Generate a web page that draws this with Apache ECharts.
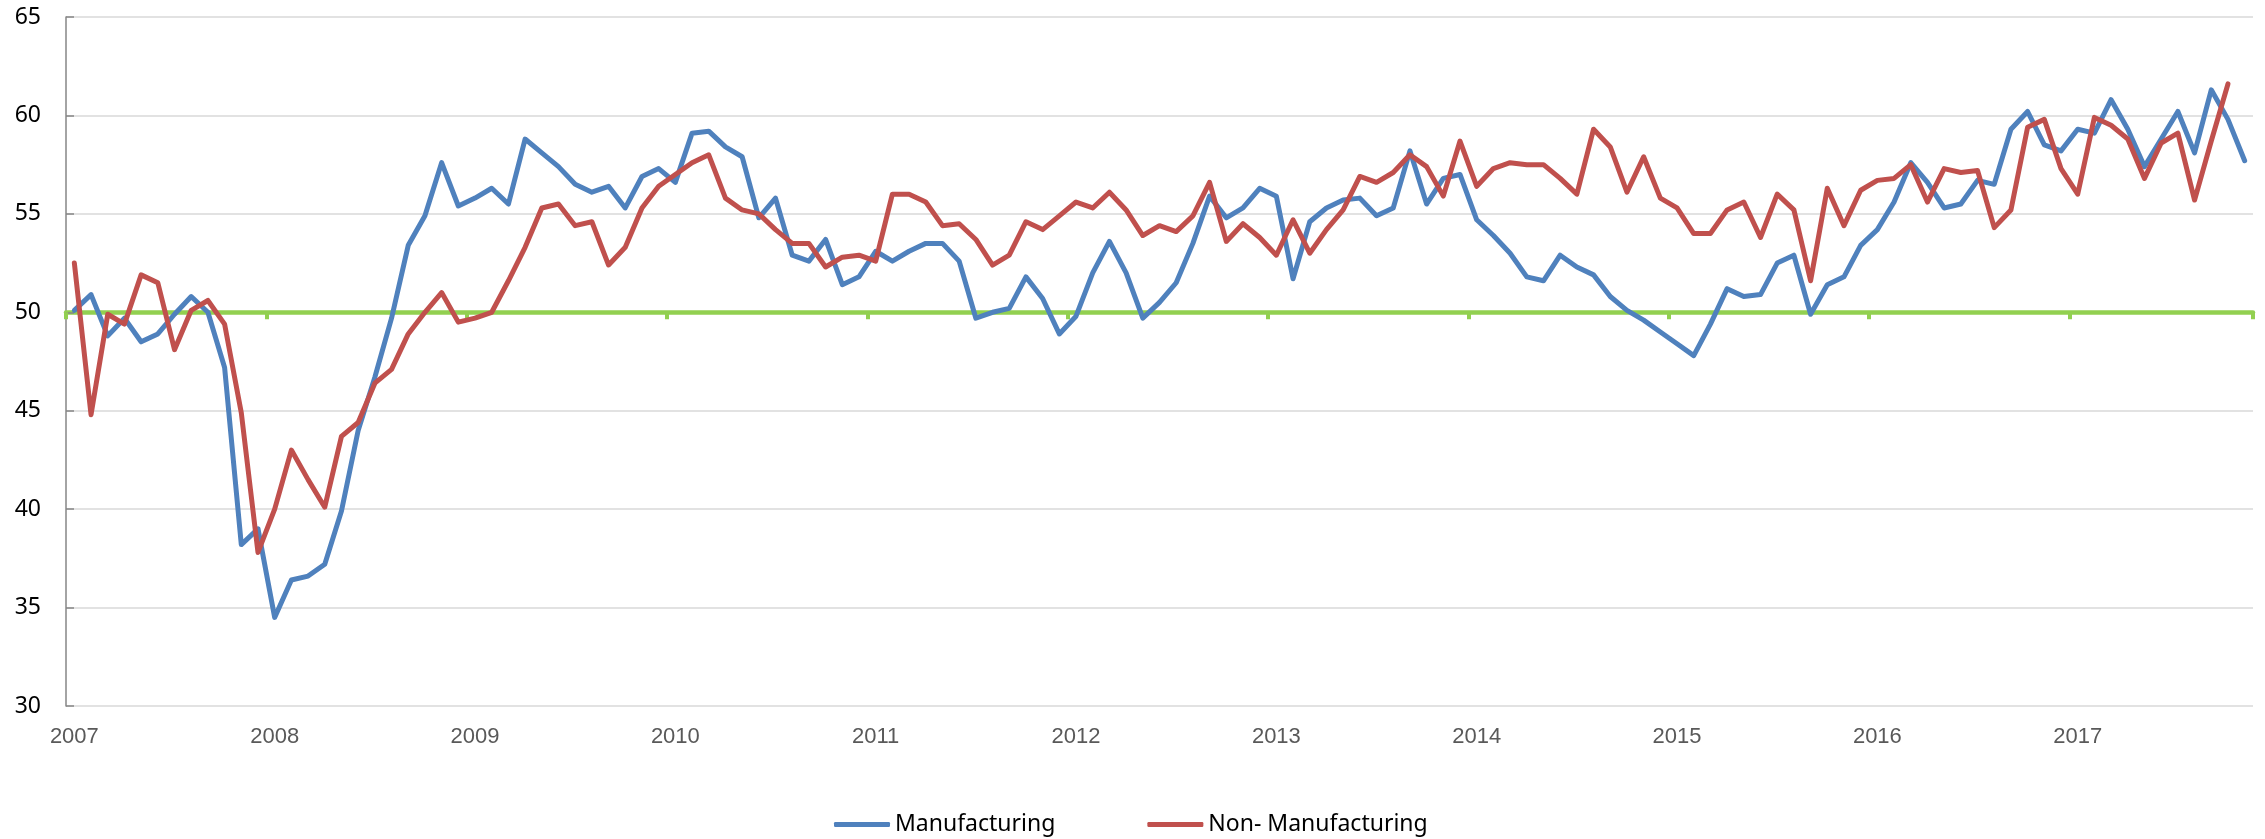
<!DOCTYPE html>
<html>
<head>
<meta charset="utf-8">
<title>Manufacturing vs Non-Manufacturing</title>
<script src="https://cdn.jsdelivr.net/npm/echarts@6/dist/echarts.min.js"></script>
<style>
  html, body { margin: 0; padding: 0; background: #ffffff; }
  #chart { width: 2265px; height: 839px; }
</style>
</head>
<body>
<div id="chart"></div>
<script>
// years shown on the category axis (monthly data, Jan 2007 .. Nov 2017)
const years = ['2007', '2008', '2009', '2010', '2011', '2012', '2013', '2014', '2015', '2016', '2017']
const lastMonth = 11

// Manufacturing
const manufacturing = [
  50.1, 50.9, 48.8, 49.7, 48.5, 48.9, 49.9, 50.8, 50.0, 47.2, 38.2, 39.0,
  34.5, 36.4, 36.6, 37.2, 39.9, 44.0, 46.7, 49.7, 53.4, 54.9, 57.6, 55.4,
  55.8, 56.3, 55.5, 58.8, 58.1, 57.4, 56.5, 56.1, 56.4, 55.3, 56.9, 57.3,
  56.6, 59.1, 59.2, 58.4, 57.9, 54.8, 55.8, 52.9, 52.6, 53.7, 51.4, 51.8,
  53.1, 52.6, 53.1, 53.5, 53.5, 52.6, 49.7, 50.0, 50.2, 51.8, 50.7, 48.9,
  49.8, 52.0, 53.6, 52.0, 49.7, 50.5, 51.5, 53.5, 55.9, 54.8, 55.3, 56.3,
  55.9, 51.7, 54.6, 55.3, 55.7, 55.8, 54.9, 55.3, 58.2, 55.5, 56.8, 57.0,
  54.7, 53.9, 53.0, 51.8, 51.6, 52.9, 52.3, 51.9, 50.8, 50.1, 49.6, 49.0,
  48.4, 47.8, 49.4, 51.2, 50.8, 50.9, 52.5, 52.9, 49.9, 51.4, 51.8, 53.4,
  54.2, 55.6, 57.6, 56.6, 55.3, 55.5, 56.7, 56.5, 59.3, 60.2, 58.5, 58.2,
  59.3, 59.1, 60.8, 59.3, 57.4, 58.8, 60.2, 58.1, 61.3, 59.8, 57.7
]

// Non- Manufacturing (no reading for the last month)
const nonManufacturing = [
  52.5, 44.8, 49.9, 49.4, 51.9, 51.5, 48.1, 50.1, 50.6, 49.4, 44.9, 37.8,
  40.0, 43.0, 41.5, 40.1, 43.7, 44.4, 46.4, 47.1, 48.9, 50.0, 51.0, 49.5,
  49.7, 50.0, 51.6, 53.3, 55.3, 55.5, 54.4, 54.6, 52.4, 53.3, 55.3, 56.4,
  57.0, 57.6, 58.0, 55.8, 55.2, 55.0, 54.2, 53.5, 53.5, 52.3, 52.8, 52.9,
  52.6, 56.0, 56.0, 55.6, 54.4, 54.5, 53.7, 52.4, 52.9, 54.6, 54.2, 54.9,
  55.6, 55.3, 56.1, 55.2, 53.9, 54.4, 54.1, 54.9, 56.6, 53.6, 54.5, 53.8,
  52.9, 54.7, 53.0, 54.2, 55.2, 56.9, 56.6, 57.1, 58.0, 57.4, 55.9, 58.7,
  56.4, 57.3, 57.6, 57.5, 57.5, 56.8, 56.0, 59.3, 58.4, 56.1, 57.9, 55.8,
  55.3, 54.0, 54.0, 55.2, 55.6, 53.8, 56.0, 55.2, 51.6, 56.3, 54.4, 56.2,
  56.7, 56.8, 57.5, 55.6, 57.3, 57.1, 57.2, 54.3, 55.2, 59.4, 59.8, 57.3,
  56.0, 59.9, 59.5, 58.8, 56.8, 58.6, 59.1, 55.7, 58.7, 61.6, null
]

const yTicks = { min: 30, max: 65, step: 5 }
const threshold = 50

// month categories built from the year list
const months = []
years.forEach((y, yi) => {
  const n = yi === years.length - 1 ? lastMonth : 12
  for (let m = 1; m <= n; m++) {
    months.push(y + '-' + (m < 10 ? '0' + m : m))
  }
})

const gridTop = 17
const gridBottom = 133
const plotHeight = 839 - gridTop - gridBottom
// lift the green axis up to the 50 line
const axisLift = -((threshold - yTicks.min) / (yTicks.max - yTicks.min)) * plotHeight

const myChart = echarts.init(document.getElementById('chart'))
myChart.setOption({
  animation: false,
  backgroundColor: '#ffffff',
  grid: {
    left: 66,
    right: 12,
    top: gridTop,
    bottom: gridBottom,
    containLabel: false
  },
  legend: {
    left: 829,
    top: 808,
    icon: 'roundRect',
    itemWidth: 56,
    itemHeight: 5,
    itemGap: 92,
    textStyle: {
      fontFamily: 'Noto Sans',
      fontSize: 23,
      color: '#000000'
    },
    data: ['Manufacturing', 'Non- Manufacturing']
  },
  xAxis: [
    {
      type: 'category',
      data: months,
      position: 'bottom',
      axisLine: { show: false },
      axisTick: { show: false },
      splitLine: { show: false },
      axisLabel: {
        interval: 11,
        margin: 20,
        color: '#595959',
        fontFamily: 'Liberation Sans',
        fontSize: 22,
        formatter: (v) => v.slice(0, 4)
      }
    },
    {
      type: 'category',
      data: months,
      position: 'bottom',
      offset: axisLift,
      axisLine: { show: true, lineStyle: { color: '#92D050', width: 4.5 } },
      axisTick: {
        show: true,
        interval: 11,
        length: 7,
        lineStyle: { color: '#92D050', width: 4 }
      },
      axisLabel: { show: false },
      splitLine: { show: false }
    }
  ],
  yAxis: {
    type: 'value',
    min: yTicks.min,
    max: yTicks.max,
    interval: yTicks.step,
    axisLine: { show: true, lineStyle: { color: '#868686', width: 1.5 } },
    axisTick: { show: true, inside: true, length: 8, lineStyle: { color: '#868686', width: 1.5 } },
    splitLine: { lineStyle: { color: '#d9d9d9', width: 1.5 } },
    axisLabel: {
      margin: 25,
      color: '#000000',
      fontFamily: 'Noto Sans',
      fontSize: 23
    }
  },
  series: [
    {
      name: 'Manufacturing',
      type: 'line',
      xAxisIndex: 0,
      data: manufacturing,
      symbol: 'none',
      z: 3,
      lineStyle: { color: '#4F81BD', width: 5, join: 'round', cap: 'round' },
      itemStyle: { color: '#4F81BD' }
    },
    {
      name: 'Non- Manufacturing',
      type: 'line',
      xAxisIndex: 0,
      data: nonManufacturing,
      symbol: 'none',
      z: 4,
      lineStyle: { color: '#C0504D', width: 5, join: 'round', cap: 'round' },
      itemStyle: { color: '#C0504D' }
    }
  ]
})
</script>
</body>
</html>
